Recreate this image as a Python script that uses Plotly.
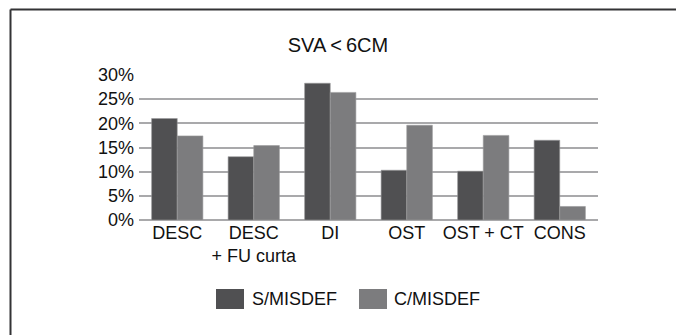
import plotly.graph_objects as go

categories = ["DESC", "DESC<br>+ FU curta", "DI", "OST", "OST + CT", "CONS"]
series_names = ["S/MISDEF", "C/MISDEF"]
s_misdef = [21.0, 13.1, 28.3, 10.3, 10.1, 16.5]
c_misdef = [17.4, 15.4, 26.4, 19.6, 17.5, 2.8]
colors = ["#505052", "#7c7c7e"]
yticks = [0, 5, 10, 15, 20, 25, 30]
ytick_labels = [f"{v}%" for v in yticks]

W, H = 676, 335
ml, mr, mt, mb = 139, 78, 75, 115
pw, ph = W - ml - mr, H - mt - mb

def px_x(x):
    return (x - ml) / pw

def px_y(y):
    return (H - mb - y) / ph

fig = go.Figure()
for name, vals, col in zip(series_names, [s_misdef, c_misdef], colors):
    fig.add_trace(go.Bar(x=categories, y=vals, name=name, marker_color=col,
                         marker_line=dict(color="#9a9a9c", width=0.6),
                         showlegend=False))

font = "Liberation Sans, Arial, Helvetica, sans-serif"
fig.update_layout(
    width=W, height=H,
    margin=dict(l=ml, r=mr, t=mt, b=mb),
    paper_bgcolor="white", plot_bgcolor="white",
    barmode="group", bargap=0.33, bargroupgap=0,
    font=dict(family=font, size=18, color="#111"),
    title=dict(text="SVA\u2009<\u20096CM", x=0.5, xanchor="center", y=1 - 45 / H,
               yanchor="middle", font=dict(size=20, family=font, color="#111")),
    xaxis=dict(showgrid=False, showline=False, ticks="", tickfont=dict(size=18)),
    yaxis=dict(range=[0, 30], tickvals=yticks, ticktext=ytick_labels, showgrid=True,
               gridcolor="#a9a9ab", gridwidth=2, zeroline=True,
               zerolinecolor="#a9a9ab", zerolinewidth=2, ticks="",
               tickfont=dict(size=18), showline=False, ticklabelstandoff=4),
)

# frame lines (top and left)
fig.add_shape(type="line", xref="paper", yref="paper",
              x0=px_x(10.5), x1=px_x(W + 5), y0=px_y(9.5), y1=px_y(9.5),
              line=dict(color="#333335", width=2))
fig.add_shape(type="line", xref="paper", yref="paper",
              x0=px_x(10.5), x1=px_x(10.5), y0=px_y(9.5), y1=px_y(H + 5),
              line=dict(color="#333335", width=2))

# custom legend
legend_items = [(216, 250), (359, 392)]
for (sx, tx), name, col in zip(legend_items, series_names, colors):
    fig.add_shape(type="rect", xref="paper", yref="paper",
                  x0=px_x(sx), x1=px_x(sx + 28), y0=px_y(309), y1=px_y(289),
                  fillcolor=col, line=dict(width=0))
    fig.add_annotation(text=name, xref="paper", yref="paper",
                       x=px_x(tx), y=px_y(299), xanchor="left", yanchor="middle",
                       showarrow=False, font=dict(size=18, family=font, color="#111"))

fig.write_html("out.html")
